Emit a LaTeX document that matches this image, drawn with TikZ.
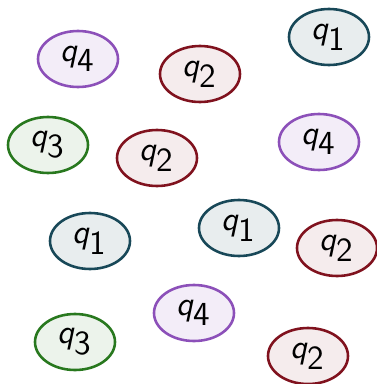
\documentclass[tikz,border=0pt]{standalone}
\usetikzlibrary{shapes.geometric}
\definecolor{qone}{RGB}{24, 72, 88}
\definecolor{qtwo}{RGB}{128, 18, 30}
\definecolor{qthree}{RGB}{40, 120, 30}
\definecolor{qfour}{RGB}{140, 80, 185}
\newcommand{\qlab}[1]{{\sffamily\itshape q}$_{\textsf{#1}}$}

\begin{document}
\begin{tikzpicture}[
  x=0.015cm, y=-0.015cm,
  state/.style={ellipse, line width=1.1pt, minimum width=1.2cm,
                minimum height=0.84cm, inner sep=0pt, font=\Large},
  sone/.style={state, draw=qone, fill=qone!10},
  stwo/.style={state, draw=qtwo, fill=qtwo!8},
  sthree/.style={state, draw=qthree, fill=qthree!9},
  sfour/.style={state, draw=qfour, fill=qfour!10}
]
  \useasboundingbox (0,0) rectangle (377,384);

  \node[sfour]  (a) at (78,59)   {\qlab{4}};
  \node[stwo]   (b) at (200,74)  {\qlab{2}};
  \node[sone]   (c) at (329,37)  {\qlab{1}};
  \node[sthree] (d) at (48,145)  {\qlab{3}};
  \node[stwo]   (e) at (157,158) {\qlab{2}};
  \node[sfour]  (f) at (319,142) {\qlab{4}};
  \node[sone]   (g) at (90,241)  {\qlab{1}};
  \node[sone]   (h) at (239,228) {\qlab{1}};
  \node[stwo]   (i) at (337,248) {\qlab{2}};
  \node[sfour]  (j) at (194,313) {\qlab{4}};
  \node[sthree] (k) at (75,342)  {\qlab{3}};
  \node[stwo]   (l) at (308,356) {\qlab{2}};
\end{tikzpicture}
\end{document}
